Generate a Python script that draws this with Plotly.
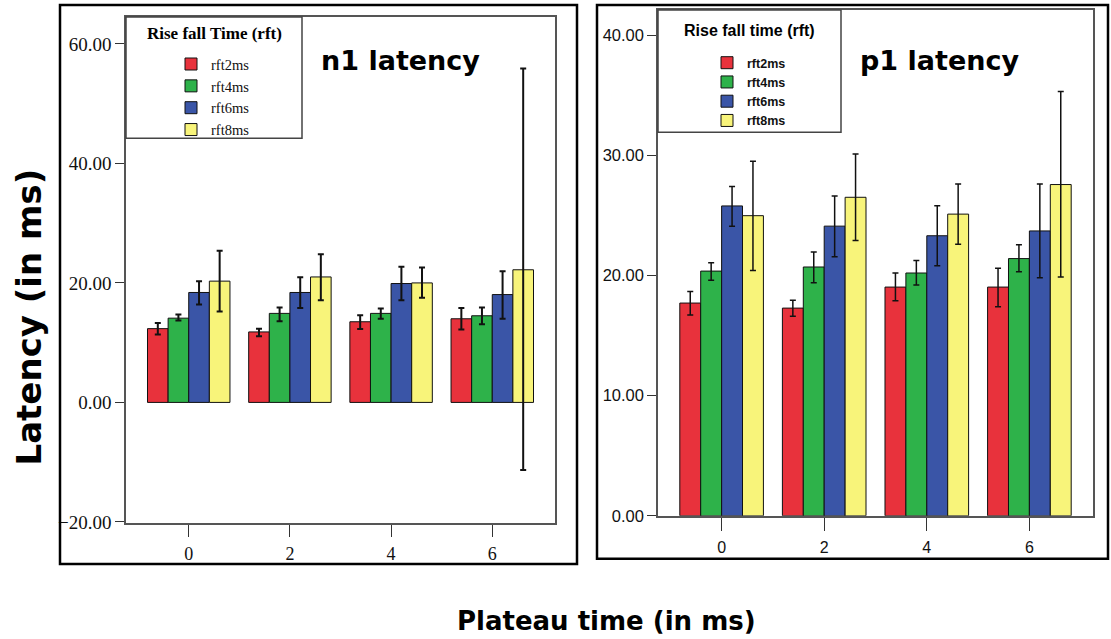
import plotly.graph_objects as go

W, H = 1111, 639
FIG_H = 650  # rendered page appears vertically compressed; compensate

plateau = ["0", "2", "4", "6"]
series = ["rft2ms", "rft4ms", "rft6ms", "rft8ms"]
colors = ["#e8323c", "#2eb24a", "#3a55a7", "#f8f47a"]

# n1 latency: means, lower and upper CI bounds
n1_rft2 = [12.35, 11.8, 13.5, 14.0]
n1_rft2_lo = [11.35, 11.06, 12.3, 12.2]
n1_rft2_hi = [13.3, 12.35, 14.6, 15.8]
n1_rft4 = [14.1, 14.9, 14.9, 14.5]
n1_rft4_lo = [13.7, 13.6, 14.0, 13.1]
n1_rft4_hi = [14.7, 15.9, 15.7, 15.9]
n1_rft6 = [18.4, 18.4, 19.9, 18.05]
n1_rft6_lo = [16.4, 15.8, 17.1, 14.0]
n1_rft6_hi = [20.3, 20.96, 22.7, 21.96]
n1_rft8 = [20.3, 21.0, 20.0, 22.2]
n1_rft8_lo = [15.2, 17.1, 17.5, -11.3]
n1_rft8_hi = [25.4, 24.8, 22.6, 55.9]

# p1 latency
p1_rft2 = [17.7, 17.28, 19.03, 19.03]
p1_rft2_lo = [16.7, 16.6, 17.9, 17.4]
p1_rft2_hi = [18.67, 17.94, 20.2, 20.6]
p1_rft4 = [20.36, 20.7, 20.2, 21.4]
p1_rft4_lo = [19.6, 19.4, 19.2, 20.3]
p1_rft4_hi = [21.06, 21.94, 21.25, 22.56]
p1_rft6 = [25.78, 24.1, 23.3, 23.7]
p1_rft6_lo = [24.1, 21.56, 20.8, 19.8]
p1_rft6_hi = [27.4, 26.6, 25.8, 27.6]
p1_rft8 = [24.97, 26.5, 25.1, 27.56]
p1_rft8_lo = [20.4, 22.9, 22.6, 19.86]
p1_rft8_hi = [29.5, 30.1, 27.6, 35.3]

n1 = [(n1_rft2, n1_rft2_lo, n1_rft2_hi), (n1_rft4, n1_rft4_lo, n1_rft4_hi),
      (n1_rft6, n1_rft6_lo, n1_rft6_hi), (n1_rft8, n1_rft8_lo, n1_rft8_hi)]
p1 = [(p1_rft2, p1_rft2_lo, p1_rft2_hi), (p1_rft4, p1_rft4_lo, p1_rft4_hi),
      (p1_rft6, p1_rft6_lo, p1_rft6_hi), (p1_rft8, p1_rft8_lo, p1_rft8_hi)]

def px(x):
    return x / W

def py(y):
    return 1 - y / H

fig = go.Figure()

for name, col, (m, lo, hi) in zip(series, colors, n1):
    fig.add_trace(go.Bar(
        x=plateau, y=m, name=name, marker=dict(color=col, line=dict(color="#111", width=1)),
        error_y=dict(type="data", array=[h - v for h, v in zip(hi, m)],
                     arrayminus=[v - l for v, l in zip(m, lo)],
                     color="#111", thickness=2, width=3),
        xaxis="x", yaxis="y", legend="legend"))

for name, col, (m, lo, hi) in zip(series, colors, p1):
    fig.add_trace(go.Bar(
        x=plateau, y=m, name=name, marker=dict(color=col, line=dict(color="#111", width=1)),
        error_y=dict(type="data", array=[h - v for h, v in zip(hi, m)],
                     arrayminus=[v - l for v, l in zip(m, lo)],
                     color="#111", thickness=1.5, width=3),
        xaxis="x2", yaxis="y2", legend="legend2"))

axcommon = dict(showline=True, linecolor="#555", linewidth=1.5, mirror=True,
                showgrid=False, zeroline=False, ticks="outside", tickcolor="#333")

fig.update_layout(
    width=W, height=FIG_H, margin=dict(l=0, r=0, t=0, b=0),
    paper_bgcolor="white", plot_bgcolor="white",
    barmode="group", bargap=0.185, bargroupgap=0,
    xaxis=dict(domain=[px(126), px(555)], anchor="y", type="category",
               range=[-0.62, 3.62], ticklen=12, ticklabelstandoff=2,
               tickfont=dict(family="Liberation Serif", size=18, color="#111"), **axcommon),
    yaxis=dict(domain=[py(522), py(17)], anchor="x", range=[-20.15, 64.5],
               tickvals=[-20, 0, 20, 40, 60], tickformat=".2f", ticklen=9,
               tickfont=dict(family="Liberation Serif", size=19, color="#111"), **axcommon),
    xaxis2=dict(domain=[px(658), px(1093)], anchor="y2", type="category",
                range=[-0.62, 3.62], ticklen=13, ticklabelstandoff=3,
                tickfont=dict(family="Liberation Sans", size=16, color="#111"), **axcommon),
    yaxis2=dict(domain=[py(515), py(10)], anchor="x2", range=[0, 42.08],
                tickvals=[0, 10, 20, 30, 40], tickformat=".2f", ticklen=9,
                tickfont=dict(family="Liberation Sans", size=16.5, color="#111"), **axcommon),
    legend=dict(x=px(171), y=py(48), xanchor="left", yanchor="top",
                bgcolor="rgba(0,0,0,0)", borderwidth=0,
                font=dict(family="Liberation Serif", size=14.5, color="#111")),
    legend2=dict(x=px(707), y=py(48), xanchor="left", yanchor="top",
                 bgcolor="rgba(0,0,0,0)", borderwidth=0,
                 font=dict(family="Liberation Sans", size=12.5, color="#111", weight="bold")),
    showlegend=True,
)

shapes = [
    # outer panel frames
    dict(type="rect", xref="paper", yref="paper", x0=px(60), x1=px(577), y0=py(563), y1=py(5),
         line=dict(color="black", width=2.5)),
    dict(type="rect", xref="paper", yref="paper", x0=px(597), x1=px(1108), y0=py(558), y1=py(5),
         line=dict(color="black", width=2.5)),
    # legend boxes
    dict(type="rect", xref="paper", yref="paper", x0=px(126), x1=px(302), y0=py(138), y1=py(17),
         line=dict(color="#444", width=1.5), fillcolor="rgba(0,0,0,0)"),
    dict(type="rect", xref="paper", yref="paper", x0=px(658), x1=px(841), y0=py(132), y1=py(10),
         line=dict(color="#444", width=1.5), fillcolor="rgba(0,0,0,0)"),
]

def ann(text, x, y, family, size, angle=0):
    return dict(text=text, x=px(x), y=py(y), xref="paper", yref="paper",
                xanchor="center", yanchor="middle", textangle=angle, showarrow=False,
                font=dict(family=family, size=size, color="black"))

annotations = [
    ann("<b>Rise fall Time (rft)</b>", 214, 33, "Liberation Serif", 17),
    ann("<b>Rise fall time (rft)</b>", 749, 30, "Liberation Sans", 16),
    ann("<b>n1 latency</b>", 401, 60, "DejaVu Sans", 27),
    ann("<b>p1 latency</b>", 939, 60, "DejaVu Sans", 27),
    ann("<b>Latency (in ms)</b>", 29, 317, "DejaVu Sans", 34, -90),
    ann("<b>Plateau time (in ms)</b>", 606, 620, "DejaVu Sans", 26),
]

fig.update_layout(shapes=shapes, annotations=annotations)

fig.write_html("out.html")
